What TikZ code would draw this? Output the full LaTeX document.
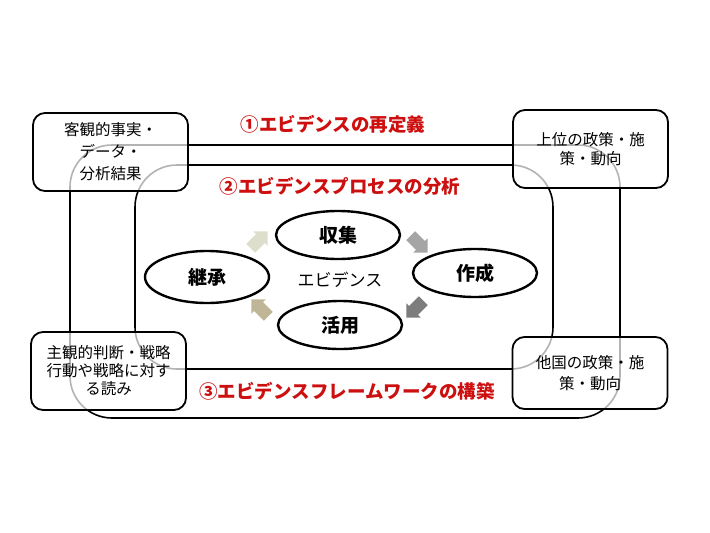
\documentclass[tikz,border=0pt]{standalone}
\usepackage{fontspec}
\setmainfont{Noto Sans CJK JP}
\usetikzlibrary{positioning,shapes.geometric,shapes.arrows}
\definecolor{labred}{RGB}{205,15,15}

\begin{document}
\begin{tikzpicture}[
  x=1pt,y=-1pt,
  src/.style={draw,line width=1.8pt,rounded corners=12pt,fill=white,fill opacity=0.7,text opacity=1,
    minimum width=155pt,minimum height=78pt,align=center,font=\fontsize{15.5}{18}\selectfont},
  proc/.style={draw,ellipse,line width=2.4pt,minimum width=124pt,minimum height=48pt,
    font=\bfseries\fontsize{19}{20}\selectfont},
  turn/.style={single arrow,minimum height=24pt,inner sep=6pt,single arrow head extend=4pt,
    single arrow head indent=0pt,draw=none},
  loop/.style={line width=1.6pt,rounded corners=42pt},
  tag/.style={text=labred,font=\bfseries\fontsize{18.5}{20}\selectfont}
]
  \useasboundingbox (0,0) rectangle (710,533);

  % the two loops, under the boxes
  \coordinate (a1) at (70,145);
  \coordinate (a2) at (620,418);
  \coordinate (b1) at (135,165);
  \coordinate (b2) at (553,369);
  \draw[loop] (a1) rectangle (a2);
  \draw[loop] (b1) rectangle (b2);

  % corner boxes
  \node[src,font=\fontsize{15.5}{22}\selectfont] (fact) at (110.5,152) {客観的事実・\\データ・\\分析結果};
  \node[src,font=\fontsize{15.5}{19.5}\selectfont] (upper) at (590.5,149) {上位の政策・施\\策・動向};
  \node[src] (judge) at (108.5,371) {主観的判断・戦略\\行動や戦略に対す\\る読み};
  \node[src,minimum height=72pt,font=\fontsize{15.5}{21.5}\selectfont] (other) at (590,373) {他国の政策・施\\策・動向};

  % evidence cycle
  \node[font=\fontsize{17}{20}\selectfont] (evi) at (340,280) {エビデンス};
  \node[proc] (collect) at (338,235) {収集};
  \node[proc] (make) at (475,273) {作成};
  \node[proc] (use) at (340,325) {活用};
  \node[proc,minimum height=52pt] (inherit) at (207,277) {継承};

  \node[turn,fill={rgb,255:red,222;green,222;blue,205},rotate=45] (t1) at (257,242) {};
  \node[turn,fill={rgb,255:red,165;green,165;blue,165},rotate=-45] (t2) at (417,242) {};
  \node[turn,fill={rgb,255:red,125;green,125;blue,125},rotate=-135] (t3) at (417,307) {};
  \node[turn,fill={rgb,255:red,190;green,182;blue,150},rotate=135] (t4) at (262,310) {};

  % red titles
  \node[tag] (redef) at (333,124) {①エビデンスの再定義};
  \node[tag] (analyse) at (340,186) {②エビデンスプロセスの分析};
  \node[tag] (build) at (347,391) {③エビデンスフレームワークの構築};
\end{tikzpicture}
\end{document}
